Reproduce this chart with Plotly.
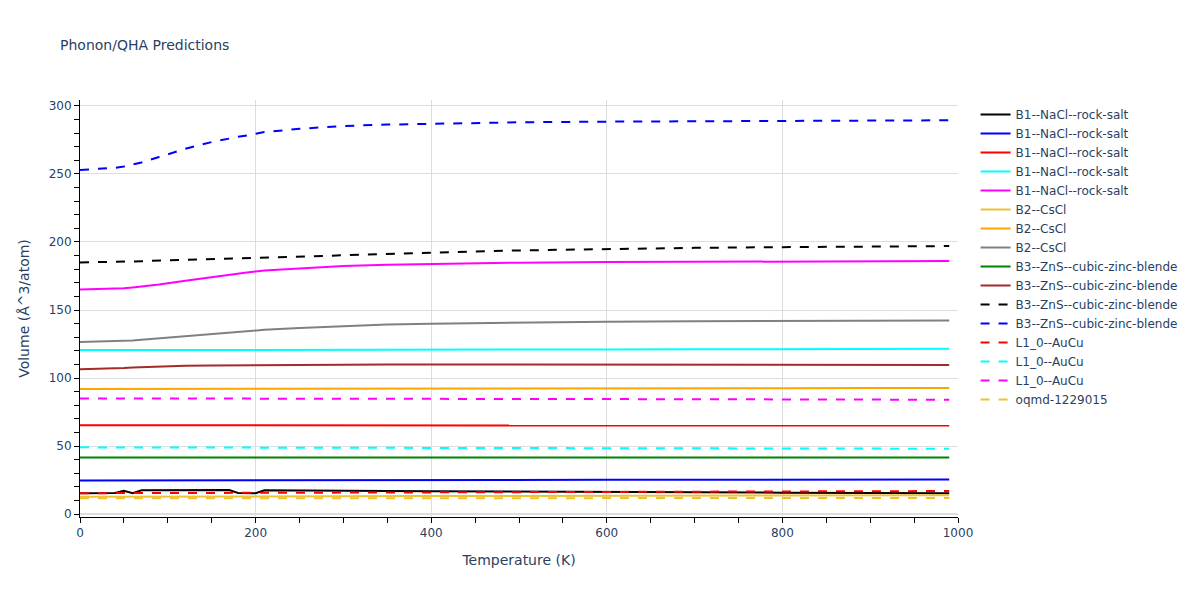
import plotly.graph_objects as go

T = [0, 20, 40, 50, 60, 70, 90, 120, 150, 170, 180, 190, 200, 210, 250, 300, 350, 400, 500, 600, 700, 800, 900, 990]

names = [
    "B1--NaCl--rock-salt", "B1--NaCl--rock-salt", "B1--NaCl--rock-salt", "B1--NaCl--rock-salt", "B1--NaCl--rock-salt",
    "B2--CsCl", "B2--CsCl", "B2--CsCl",
    "B3--ZnS--cubic-zinc-blende", "B3--ZnS--cubic-zinc-blende", "B3--ZnS--cubic-zinc-blende", "B3--ZnS--cubic-zinc-blende",
    "L1_0--AuCu", "L1_0--AuCu", "L1_0--AuCu",
    "oqmd-1229015",
]
colors = ["black", "blue", "red", "cyan", "magenta", "#EEC230", "orange", "gray",
          "green", "brown", "black", "blue", "red", "cyan", "magenta", "#EEC230"]
dashes = ["solid"] * 10 + ["dash"] * 6

b1_black = [15.3, 15.3, 15.5, 17.0, 15.3, 17.5, 17.6, 17.3, 17.5, 17.6, 15.5, 15.3, 15.3, 17.5, 17.5, 17.3, 17.0, 16.8, 16.4, 16.2, 16.0, 15.7, 15.5, 15.3]
b1_blue = [24.6, 24.6, 24.6, 24.6, 24.6, 24.7, 24.7, 24.7, 24.7, 24.8, 24.8, 24.8, 24.8, 24.8, 24.9, 24.9, 25.0, 25.0, 25.1, 25.1, 25.2, 25.3, 25.4, 25.4]
b1_red = [65.3, 65.3, 65.3, 65.3, 65.3, 65.3, 65.3, 65.3, 65.3, 65.3, 65.3, 65.3, 65.3, 65.3, 65.3, 65.2, 65.2, 65.2, 65.2, 65.1, 65.1, 65.1, 65.0, 65.0]
b1_cyan = [120.5, 120.5, 120.5, 120.5, 120.5, 120.5, 120.5, 120.5, 120.5, 120.5, 120.5, 120.5, 120.6, 120.6, 120.6, 120.7, 120.7, 120.8, 120.9, 121.0, 121.1, 121.2, 121.4, 121.5]
b1_magenta = [165.0, 165.2, 165.5, 166.0, 166.6, 167.3, 168.8, 171.5, 174.3, 176.0, 176.8, 177.6, 178.3, 179.0, 180.6, 182.3, 183.3, 183.9, 184.8, 185.2, 185.4, 185.6, 185.8, 186.0]
b2_gold = [12.7, 12.7, 12.7, 12.7, 12.7, 12.7, 12.8, 12.8, 12.8, 12.9, 12.9, 12.9, 12.9, 12.9, 13.0, 13.0, 13.1, 13.2, 13.3, 13.4, 13.5, 13.6, 13.7, 13.8]
b2_orange = [92.0, 92.0, 92.0, 92.0, 92.0, 92.0, 92.0, 92.0, 92.1, 92.1, 92.1, 92.1, 92.1, 92.1, 92.2, 92.2, 92.2, 92.3, 92.3, 92.4, 92.4, 92.5, 92.6, 92.7]
b2_gray = [126.5, 126.7, 126.9, 127.2, 127.6, 128.1, 129.2, 131.0, 132.6, 133.6, 134.1, 134.6, 135.0, 135.4, 136.8, 138.3, 139.3, 139.9, 140.8, 141.4, 141.7, 141.9, 142.1, 142.2]
b3_green = [41.5, 41.5, 41.5, 41.5, 41.5, 41.5, 41.5, 41.5, 41.5, 41.5, 41.5, 41.5, 41.5, 41.5, 41.5, 41.5, 41.5, 41.5, 41.5, 41.5, 41.5, 41.5, 41.5, 41.5]
b3_brown = [106.5, 106.7, 107.0, 107.3, 107.7, 108.0, 108.5, 109.0, 109.2, 109.3, 109.4, 109.5, 109.6, 109.7, 109.9, 110.0, 110.0, 110.0, 110.0, 109.8, 109.7, 109.6, 109.5, 109.5]
b3_black = [185.0, 185.1, 185.3, 185.5, 185.7, 185.9, 186.3, 186.8, 187.3, 187.6, 187.8, 188.0, 188.2, 188.4, 189.1, 190.2, 191.2, 192.1, 193.8, 195.0, 195.7, 196.2, 196.7, 197.0]
b3_blue = [253.0, 253.5, 254.5, 255.5, 256.8, 258.5, 262.5, 268.5, 273.5, 276.2, 277.3, 278.3, 279.7, 280.8, 283.2, 285.3, 286.3, 287.0, 288.0, 288.5, 288.8, 289.0, 289.3, 289.5]
l10_red = [15.3, 15.3, 15.3, 15.4, 15.4, 15.4, 15.5, 15.5, 15.6, 15.6, 15.6, 15.7, 15.7, 15.7, 15.7, 15.8, 15.8, 15.9, 16.0, 16.2, 16.3, 16.5, 16.7, 16.9]
l10_cyan = [49.0, 49.0, 49.0, 49.0, 49.0, 49.0, 49.0, 49.0, 48.9, 48.9, 48.9, 48.9, 48.9, 48.9, 48.8, 48.8, 48.7, 48.7, 48.5, 48.4, 48.3, 48.2, 48.1, 48.0]
l10_magenta = [85.0, 85.0, 85.0, 85.0, 85.0, 85.0, 85.0, 84.9, 84.9, 84.9, 84.9, 84.9, 84.9, 84.9, 84.9, 84.8, 84.8, 84.7, 84.6, 84.5, 84.4, 84.2, 84.1, 84.0]
oqmd_gold = [11.5, 11.5, 11.5, 11.5, 11.5, 11.5, 11.5, 11.5, 11.5, 11.5, 11.5, 11.5, 11.5, 11.5, 11.5, 11.6, 11.6, 11.6, 11.7, 11.7, 11.7, 11.8, 11.8, 11.8]

series = [b1_black, b1_blue, b1_red, b1_cyan, b1_magenta, b2_gold, b2_orange, b2_gray,
          b3_green, b3_brown, b3_black, b3_blue, l10_red, l10_cyan, l10_magenta, oqmd_gold]

fig = go.Figure()
for name, ys, c, d in zip(names, series, colors, dashes):
    fig.add_trace(go.Scatter(x=T, y=ys, mode="lines", name=name,
                             line=dict(color=c, dash=d, width=2)))

FONT = "Verdana, DejaVu Sans, sans-serif"
fig.update_layout(
    width=1200, height=600,
    title=dict(text="Phonon/QHA Predictions", x=0.05, font=dict(size=14, color="#2a3f5f", family=FONT)),
    paper_bgcolor="white", plot_bgcolor="white",
    font=dict(color="#2a3f5f", family=FONT, size=12),
    margin=dict(l=80, r=242, t=100, b=83),
    legend=dict(x=1.02, y=1, font=dict(size=12)),
)
fig.update_xaxes(title_text="Temperature (K)", range=[0, 1000], dtick=200,
                 showline=True, linecolor="black", linewidth=1,
                 ticks="outside", ticklen=5, tickcolor="black",
                 showgrid=True, gridcolor="#dddddd", zeroline=False,
                 minor=dict(dtick=50, ticks="outside", ticklen=5, tickcolor="black", showgrid=False))
fig.update_yaxes(title_text="Volume (Å^3/atom)", range=[-2.2, 304.4], dtick=50,
                 showline=True, linecolor="black", linewidth=1,
                 ticks="outside", ticklen=5, tickcolor="black",
                 showgrid=True, gridcolor="#dddddd", zeroline=True, zerolinecolor="#dddddd",
                 minor=dict(dtick=10, ticks="outside", ticklen=5, tickcolor="black", showgrid=False))

fig.write_html("out.html", config={"displayModeBar": False},
               post_script="document.body.style.margin='0';")
